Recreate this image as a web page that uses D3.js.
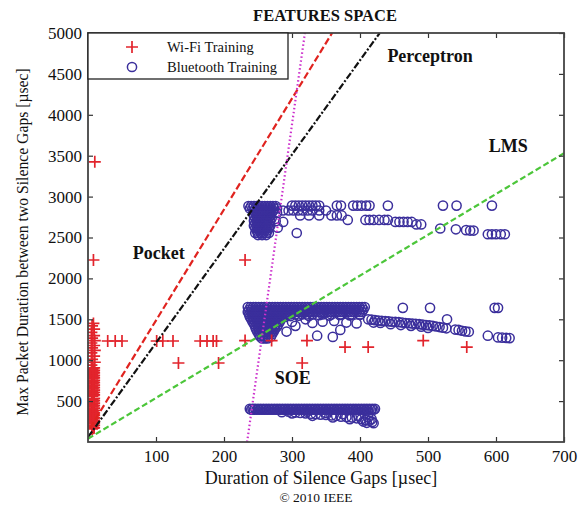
<!DOCTYPE html>
<html><head><meta charset="utf-8">
<script src="https://cdn.jsdelivr.net/npm/d3@7"></script>
<style>body{margin:0;background:#fff}svg{display:block}</style>
</head><body>
<svg id="chart" width="579" height="506"></svg>
<script>
// ---------- data ----------
const xTicks = [100, 200, 300, 400, 500, 600, 700];
const yTicks = [500, 1000, 1500, 2000, 2500, 3000, 3500, 4000, 4500, 5000];
const seriesNames = ["Wi-Fi Training", "Bluetooth Training"];

// Wi-Fi training points [x, y]
const wifiColumn = [
  [6,160],[9,175],[6,190],[9,205],[6,220],[9,235],[6,250],[9,265],[6,280],[9,295],[6,310],[9,325],[6,340],
  [9,355],[6,370],[9,385],[6,400],[9,415],[6,430],[9,445],[6,460],[9,475],[6,490],[9,505],[6,520],[9,535],
  [6,560],[9,575],[6,590],[9,605],[6,620],[9,635],[6,650],[9,665],[6,680],[9,695],[6,710],[9,725],
  [6,740],[9,755],[6,770],[9,785],[6,800],[9,815],[6,830],[9,845],[6,860],[9,875],[6,890],[9,905],
  [8,168],[7,198],[8,228],[7,258],[8,288],[7,318],[8,348],[7,378],[8,408],[7,438],[8,468],[7,498],[8,528],
  [8,568],[7,598],[8,628],[7,658],[8,688],[7,718],[8,748],[7,778],[8,808],[7,838],[8,868],[7,898],
  [5,940],[10,975],[6,1010],[9,1050],[5,1090],[10,1120],[6,1150],[9,1180],[5,1210],[10,1240],[6,1270],
  [9,1300],[5,1340],[9,1380],[6,1420],[8,1450]
];
const wifiOthers = [
  [10,3425],[8,2225],[231,2225],
  [29,1235],[40,1235],[50,1235],[101,1235],[110,1235],[125,1235],[165,1235],[175,1235],[184,1235],[189,1235],
  [231,1240],[270,1240],[322,1240],[493,1240],
  [378,1160],[412,1160],[557,1160],
  [133,966],[192,966],[315,966]
];

// Bluetooth training: dense rows [y, [x...]] and scattered points [x, y]
const btRows = [
  // upper cluster block
  [2885,[236,240,244,248,252,256,260,264,268,272,276]],
  [2855,[238,242,246,250,254,258,262,266,270,274,278]],
  [2825,[244,248,252,256,260,264,268,272]],
  [2795,[246,250,254,258,262,266,270]],
  [2765,[244,248,252,256,260,264,268]],
  [2735,[246,250,254,258,262,266,270]],
  [2705,[244,248,252,256,260,264,268]],
  [2675,[246,250,254,258,262,266]],
  [2645,[244,248,252,256,260,264,268]],
  [2615,[246,250,254,258,262,266]],
  [2585,[248,252,256,260,264]],
  [2555,[246,250,254,258,262,266]],
  [2530,[250,256,262]],
  // upper cluster trail
  [2890,[300,305,310,315,320,325,330,335,340,366,372,390,396,402,409,414,441,522,542,594]],
  [2830,[287,295,302,309,316,323,330,340,350]],
  [2770,[312,325,340,358,366,373]],
  [2715,[382,408,414,420,428,436,441]],
  [2690,[287,452,458,464,470,476]],
  [2660,[483,490]],
  [2540,[588,594,600,607,613]],
  // middle cluster top band
  [1650,[235,239,243,247,251,255,259,263,267,271,275,279,283,287,291,295,299,303,307,311,315,319,323,327,331,335,339,343,347,351,355,359,363,367,371,375,379,383,387,391,395,399,403,407]],
  [1620,[237,241,245,249,253,257,261,265,269,273,277,281,285,289,293,297,301,305,309,313,317,321,325,329,333,337,341,345,349,353,357,361,365,369,373,377,381,385,389,393,397,401,405]],
  [1590,[235,239,243,247,251,255,259,263,267,271,275,279,283,287,291,295,299,303,307,311,315,319,323,327,331,335,339,343,347,351,355,359,363,367,371,375,379,383,387,391,395,399,403]],
  [1560,[237,241,245,249,253,257,261,265,269,273,277,281,285,289,293,297,305,315,322,330,345,358,372,388,400]],
  // middle cluster triangle
  [1530,[238,242,246,250,254,258,262,266,270,274,278,282,286,290]],
  [1500,[240,244,248,252,256,260,264,268,272,276,280,284]],
  [1470,[242,246,250,254,258,262,266,270,274,278,282]],
  [1440,[244,248,252,256,260,264,268,272,276,280]],
  [1410,[246,250,254,258,262,266,270,274,278]],
  [1380,[247,251,255,259,263,267,271,275]],
  [1350,[249,253,257,261,265,269,273]],
  [1320,[251,255,259,263,267,271]],
  [1290,[253,257,261,265,269]],
  [1265,[256,260,264]],
  // lower band
  [405,[238,242,246,250,254,258,262,266,270,274,278,282,286,290,294,298,302,306,310,314,318,322,326,330,334,338,342,346,350,354,358,362,366,370,374,378,382,386,390,394,398,402,406,410,414,418,422]],
  [395,[240,244,248,252,256,260,264,268,272,276,280,284,288,292,296,300,304,308,312,316,320,324,328,332,336,340,344,348,352,356,360,364,368,372,376,380,384,388,392,396,400,404,408,412,416,420]]
];
const btScatter = [
  [307,2555],[518,2610],[541,2600],[556,2590],[562,2585],[567,2585],[278,2800],[276,2700],[279,2620],
  [298,1540],[310,1545],[325,1540],[340,1550],[355,1545],[370,1552],[385,1548],[400,1555],
  [300,1467],[292,1350],[337,1300],[360,1285],[371,1370],[345,1470],[362,1480],[380,1460],[395,1450],[320,1500],[330,1455],[305,1420],
  [463,1640],[503,1640],[528,1500],[598,1640],[603,1640],
  [412,1500],[417,1495],[422,1490],[427,1485],[432,1480],[437,1478],[442,1475],[447,1470],[452,1468],[457,1465],[462,1460],[467,1455],
  [472,1452],[477,1448],[482,1445],[487,1440],[492,1435],[497,1430],[502,1425],[507,1420],[512,1412],[517,1405],[522,1398],[527,1390],
  [540,1375],[545,1370],[550,1360],[555,1352],[560,1348],[588,1300],[603,1278],[609,1275],[615,1272],[620,1270],
  [420,1460],[430,1455],[445,1440],[460,1430],[475,1420],[490,1410],[500,1395],
  [285,365],[295,370],[305,360],[312,355],[320,350],[328,345],[335,340],[342,335],[350,330],[358,325],[365,320],[372,310],[380,305],
  [388,300],[395,290],[402,280],[408,270],[414,260],[418,245],[420,230],[300,350],[330,320],[360,300],[385,280],[405,250],[412,300],
  [398,320],[375,340],[350,355],[322,370],[417,280],[410,235]
];

// decision boundaries: [name, x0, y0, x1, y1]
const boundaries = [
  ["Pocket", 3, 170, 359, 5000],
  ["Perceptron", 0, 60, 429, 5000],
  ["LMS", 0, 40, 700, 3530],
  ["SOE", 234, 0, 319, 5000]
];
// annotation labels [text, x, y]
const annotations = [
  ["Perceptron", 503, 4700],
  ["LMS", 618, 3600],
  ["Pocket", 104, 2290],
  ["SOE", 301, 760]
];

// ---------- drawing ----------
const W = 579, H = 506;
const m = {left: 88, right: 15, top: 33, bottom: 64};
const svg = d3.select("#chart");
const x = d3.scaleLinear().domain([0, 700]).range([m.left, W - m.right]);
const y = d3.scaleLinear().domain([0, 5000]).range([H - m.bottom, m.top]);
const serif = "'Liberation Serif','Times New Roman',serif";
const RED = "#e2242c", BLUE = "#3b2f9c";

svg.append("clipPath").attr("id", "clip").append("rect")
  .attr("x", m.left).attr("y", m.top).attr("width", x(700) - m.left).attr("height", y(0) - m.top);

const plot = svg.append("g").attr("clip-path", "url(#clip)");

// bluetooth circles
const btPoints = [];
btRows.forEach(([yy, xs]) => xs.forEach(xx => btPoints.push([xx, yy])));
btScatter.forEach(p => btPoints.push(p));
plot.append("g").selectAll("circle").data(btPoints).join("circle")
  .attr("cx", d => x(d[0])).attr("cy", d => y(d[1])).attr("r", 4.6)
  .attr("fill", "none").attr("stroke", BLUE).attr("stroke-width", 1.5);

// wifi crosses
const wifiPoints = wifiColumn.concat(wifiOthers);
const crossPath = (s) => `M${-s},0H${s}M0,${-s}V${s}`;
plot.append("g").selectAll("path").data(wifiPoints).join("path")
  .attr("transform", d => `translate(${x(d[0])},${y(d[1])})`)
  .attr("d", crossPath(6)).attr("fill", "none").attr("stroke", RED).attr("stroke-width", 1.7);

// boundaries
const bStyle = {
  Pocket: {color: "#e0231f", dash: "7,3"},
  Perceptron: {color: "#111", dash: "7,2,2,2"},
  LMS: {color: "#4cc63a", dash: "6,3"},
  SOE: {color: "#cc2fcc", dash: "1.5,2.5"}
};
plot.append("g").selectAll("line").data(boundaries).join("line")
  .attr("x1", d => x(d[1])).attr("y1", d => y(d[2])).attr("x2", d => x(d[3])).attr("y2", d => y(d[4]))
  .attr("stroke", d => bStyle[d[0]].color).attr("stroke-dasharray", d => bStyle[d[0]].dash)
  .attr("stroke-width", 2.2).attr("fill", "none");

// axes
const tickFont = g => g.selectAll("text").attr("font-family", serif).attr("font-size", 17).attr("fill", "#111");
const clean = g => { g.select(".domain").remove(); g.selectAll("line").attr("stroke", "#333").attr("stroke-width", 1.2); };
const fmt = d3.format("d");
svg.append("g").attr("transform", `translate(0,${y(0)})`)
  .call(d3.axisBottom(x).tickValues(xTicks).tickFormat(fmt).tickSizeInner(-5).tickSizeOuter(0).tickPadding(8))
  .call(clean).call(tickFont);
svg.append("g").attr("transform", `translate(${x(0)},0)`)
  .call(d3.axisLeft(y).tickValues(yTicks).tickFormat(fmt).tickSizeInner(-5).tickSizeOuter(0).tickPadding(6))
  .call(clean).call(tickFont);
svg.append("g").attr("transform", `translate(0,${y(5000)})`)
  .call(d3.axisTop(x).tickValues(xTicks).tickSizeInner(-5).tickSizeOuter(0).tickFormat(""))
  .call(clean);
svg.append("g").attr("transform", `translate(${x(700)},0)`)
  .call(d3.axisRight(y).tickValues(yTicks).tickSizeInner(-5).tickSizeOuter(0).tickFormat(""))
  .call(clean);

// frame
svg.append("rect").attr("x", x(0)).attr("y", y(5000)).attr("width", x(700) - x(0)).attr("height", y(0) - y(5000))
  .attr("fill", "none").attr("stroke", "#444").attr("stroke-width", 1.8);

// annotations
svg.append("g").selectAll("text").data(annotations).join("text")
  .attr("x", d => x(d[1])).attr("y", d => y(d[2])).attr("text-anchor", "middle").attr("dominant-baseline", "middle")
  .attr("font-family", serif).attr("font-weight", "bold").attr("font-size", 18).attr("fill", "#111")
  .text(d => d[0]);

// legend
const lg = svg.append("g");
lg.append("rect").attr("x", x(0)).attr("y", y(5000)).attr("width", 200).attr("height", 46)
  .attr("fill", "#fff").attr("stroke", "#222").attr("stroke-width", 1.3);
lg.append("path").attr("transform", `translate(132,47)`).attr("d", crossPath(6))
  .attr("stroke", RED).attr("stroke-width", 1.7);
lg.append("circle").attr("cx", 132).attr("cy", 67).attr("r", 4.6).attr("fill", "none")
  .attr("stroke", BLUE).attr("stroke-width", 1.5);
lg.selectAll("text.lt").data(seriesNames).join("text").attr("class", "lt")
  .attr("x", 167).attr("y", (d, i) => 52 + i * 20)
  .attr("font-family", serif).attr("font-size", 14.5).attr("fill", "#111").text(d => d);

// titles
svg.append("text").attr("x", 325).attr("y", 21).attr("text-anchor", "middle")
  .attr("font-family", serif).attr("font-weight", "bold").attr("font-size", 16.5).attr("fill", "#111")
  .text("FEATURES SPACE");
svg.append("text").attr("x", 321).attr("y", 484).attr("text-anchor", "middle")
  .attr("font-family", serif).attr("font-size", 18).attr("fill", "#111")
  .text("Duration of Silence Gaps [µsec]");
svg.append("text").attr("x", 316).attr("y", 502).attr("text-anchor", "middle")
  .attr("font-family", serif).attr("font-size", 13.5).attr("fill", "#111")
  .text("© 2010 IEEE");
svg.append("text").attr("transform", "translate(28,242) rotate(-90)").attr("text-anchor", "middle")
  .attr("font-family", serif).attr("font-size", 15.7).attr("fill", "#111")
  .text("Max Packet Duration between two Silence Gaps [µsec]");
</script>
</body></html>
